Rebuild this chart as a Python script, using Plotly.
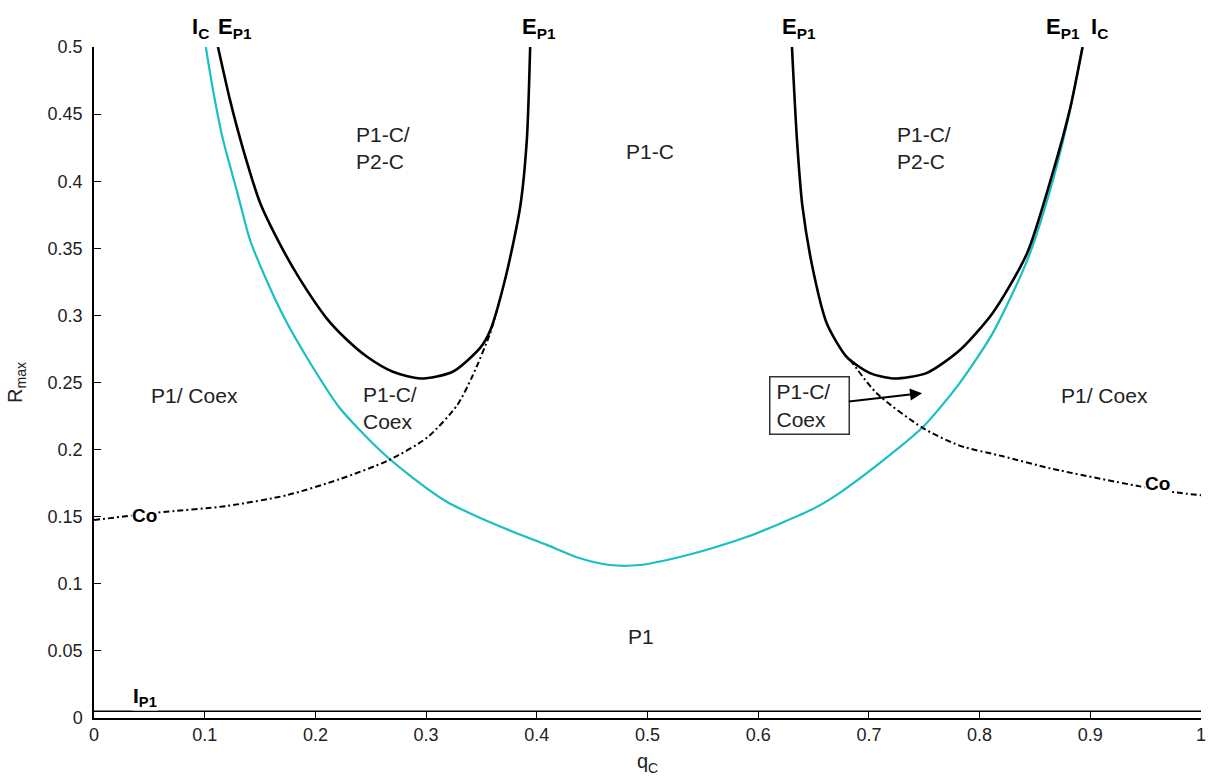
import plotly.graph_objects as go

# I_C boundary (cyan)
ic_q = [0.101, 0.1075, 0.1165, 0.129, 0.141, 0.156, 0.172, 0.192, 0.222, 0.258, 0.288, 0.319,
        0.349, 0.379, 0.409, 0.439, 0.466, 0.493, 0.529, 0.559, 0.590, 0.620, 0.650, 0.674,
        0.716, 0.749, 0.782, 0.812, 0.843, 0.8636, 0.879, 0.893]
ic_r = [0.5, 0.468, 0.431, 0.393, 0.356, 0.326, 0.298, 0.269, 0.231, 0.1997, 0.179, 0.161,
        0.149, 0.1386, 0.129, 0.119, 0.114, 0.114, 0.120, 0.1267, 0.135, 0.145, 0.156, 0.168,
        0.194, 0.217, 0.2496, 0.287, 0.341, 0.393, 0.443, 0.5]

# E_P1 boundaries (black), left lobe and right lobe
ep_left_q = [0.112, 0.123, 0.135, 0.150, 0.170, 0.186, 0.210, 0.227, 0.247, 0.270, 0.295,
             0.324, 0.349, 0.358, 0.372, 0.385, 0.391, 0.394]
ep_left_r = [0.5, 0.46, 0.423, 0.384, 0.350, 0.327, 0.298, 0.283, 0.269, 0.258, 0.253,
             0.258, 0.276, 0.289, 0.329, 0.381, 0.431, 0.5]
ep_right_q = [0.6305, 0.635, 0.640, 0.650, 0.662, 0.680, 0.701, 0.722, 0.752, 0.782, 0.812,
              0.843, 0.866, 0.882, 0.893]
ep_right_r = [0.5, 0.431, 0.381, 0.332, 0.294, 0.269, 0.257, 0.253, 0.257, 0.274, 0.302,
              0.3465, 0.406, 0.455, 0.5]

# Co boundaries (dash-dot)
co_left_q = [0.0, 0.057, 0.12, 0.174, 0.222, 0.266, 0.301, 0.328, 0.342, 0.358, 0.366]
co_left_r = [0.1475, 0.153, 0.158, 0.166, 0.178, 0.192, 0.209, 0.233, 0.255, 0.287, 0.31]
co_right_q = [0.683, 0.707, 0.749, 0.782, 0.821, 0.864, 0.942, 0.978, 1.0]
co_right_r = [0.267, 0.242, 0.216, 0.203, 0.195, 0.186, 0.173, 0.168, 0.166]

# I_P1 boundary
ip_q = [0.0, 1.0]
ip_r = [0.005, 0.005]

FONT = "Liberation Sans, Arial, sans-serif"
CYAN = "#19BFC2"
DASHDOT = "6px,3px,2px,3px"

fig = go.Figure()
fig.add_trace(go.Scatter(x=ic_q, y=ic_r, mode="lines",
                         line=dict(color=CYAN, width=2.2, shape="spline", smoothing=0.7)))
fig.add_trace(go.Scatter(x=ep_left_q, y=ep_left_r, mode="lines",
                         line=dict(color="black", width=2.6, shape="spline", smoothing=0.7)))
fig.add_trace(go.Scatter(x=ep_right_q, y=ep_right_r, mode="lines",
                         line=dict(color="black", width=2.6, shape="spline", smoothing=0.7)))
fig.add_trace(go.Scatter(x=co_left_q, y=co_left_r, mode="lines",
                         line=dict(color="black", width=2, dash=DASHDOT, shape="spline", smoothing=0.7)))
fig.add_trace(go.Scatter(x=co_right_q, y=co_right_r, mode="lines",
                         line=dict(color="black", width=2, dash=DASHDOT, shape="spline", smoothing=0.7)))
fig.add_trace(go.Scatter(x=ip_q, y=ip_r, mode="lines", line=dict(color="black", width=1.5)))

region_font = dict(family=FONT, size=21, color="#222")
regions = [
    (0.091, 0.24, "P1/ Coex"),
    (0.267, 0.231, "P1-C/<br>Coex"),
    (0.261, 0.425, "P1-C/<br>P2-C"),
    (0.502, 0.4225, "P1-C"),
    (0.75, 0.425, "P1-C/<br>P2-C"),
    (0.913, 0.24, "P1/ Coex"),
    (0.494, 0.061, "P1"),
]
for x, y, t in regions:
    fig.add_annotation(x=x, y=y, text=t, showarrow=False, font=region_font, align="left")

top_font = dict(family=FONT, size=22, color="black")
top_labels = [
    (0.096, "<b>I<sub>C</sub></b>"),
    (0.127, "<b>E<sub>P1</sub></b>"),
    (0.402, "<b>E<sub>P1</sub></b>"),
    (0.637, "<b>E<sub>P1</sub></b>"),
    (0.875, "<b>E<sub>P1</sub></b>"),
    (0.908, "<b>I<sub>C</sub></b>"),
]
for x, t in top_labels:
    fig.add_annotation(x=x, xref="x", y=1.028, yref="paper", yanchor="middle", xanchor="center",
                       text=t, showarrow=False, font=top_font)

co_font = dict(family=FONT, size=19, color="black")
fig.add_annotation(x=0.046, y=0.151, text="<b>Co</b>", showarrow=False, font=co_font,
                   bgcolor="white", borderpad=0)
fig.add_annotation(x=0.961, y=0.175, text="<b>Co</b>", showarrow=False, font=co_font,
                   bgcolor="white", borderpad=0)
fig.add_annotation(x=0.046, y=0.016, text="<b>I<sub>P1</sub></b>", showarrow=False,
                   font=dict(family=FONT, size=21, color="black"), bgcolor="white", borderpad=0)

fig.add_annotation(x=0.748, y=0.242, ax=0.646, ay=0.2325, axref="x", ayref="y",
                   text="P1-C/<br>Coex", align="left", font=region_font,
                   width=66, height=44,
                   showarrow=True, arrowhead=2, arrowsize=1.2, arrowwidth=2, arrowcolor="black",
                   bordercolor="#333", borderwidth=1.5, borderpad=6, bgcolor="white")

fig.update_layout(
    width=1208, height=780,
    margin=dict(l=94, r=7, t=47, b=62, autoexpand=False),
    plot_bgcolor="white", paper_bgcolor="white",
    showlegend=False,
    font=dict(family=FONT, size=18, color="#222"),
)
fig.update_xaxes(range=[0, 1], tickvals=[0, 0.1, 0.2, 0.3, 0.4, 0.5, 0.6, 0.7, 0.8, 0.9, 1],
                 ticktext=["0", "0.1", "0.2", "0.3", "0.4", "0.5", "0.6", "0.7", "0.8", "0.9", "1"],
                 ticks="inside", ticklen=7, tickcolor="black", showline=True, linecolor="black",
                 linewidth=1.5, showgrid=False, zeroline=False, automargin=False,
                 ticklabeloverflow="allow",
                 title=dict(text="q<sub>C</sub>", standoff=10, font=dict(size=20)))
fig.update_yaxes(range=[0, 0.5],
                 tickvals=[0, 0.05, 0.1, 0.15, 0.2, 0.25, 0.3, 0.35, 0.4, 0.45, 0.5],
                 ticktext=["0", "0.05", "0.1", "0.15", "0.2", "0.25", "0.3", "0.35", "0.4", "0.45", "0.5"],
                 ticks="inside", ticklen=7, tickcolor="black", showline=True, linecolor="black",
                 linewidth=1.5, showgrid=False, zeroline=False, automargin=False,
                 ticklabeloverflow="allow", ticklabelstandoff=6,
                 title=dict(text="R<sub>max</sub>", standoff=20, font=dict(size=20)))

fig.write_html("out.html", config={"displayModeBar": False},
               post_script="document.body.style.margin='0';")
